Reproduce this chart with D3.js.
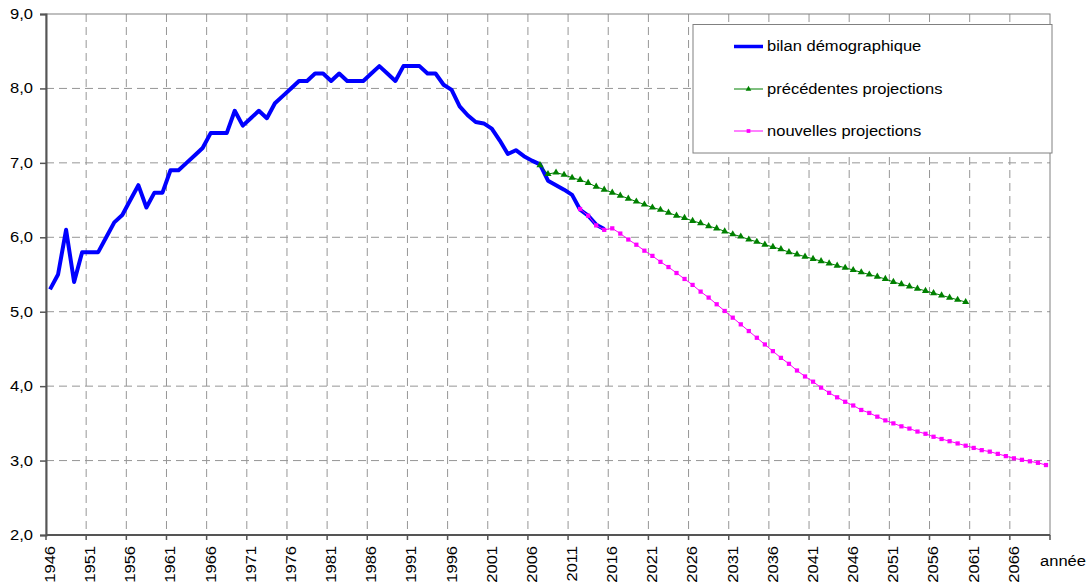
<!DOCTYPE html>
<html>
<head>
<meta charset="utf-8">
<script src="https://cdn.jsdelivr.net/npm/d3@7"></script>
<style>
  html, body { margin: 0; padding: 0; background: #fff; }
  svg { display: block; font-family: "Liberation Sans", Arial, sans-serif; }
</style>
</head>
<body>
<svg id="chart" width="1089" height="584"></svg>
<script>
// ---- Data ----
const firstYear = 1946;
const lastYear = 2070;
const categories = d3.range(firstYear, lastYear + 1);
const yTickValues = [2, 3, 4, 5, 6, 7, 8, 9];
const xLabelStep = 5;

const bilanStart = 1946;
const bilanValues = [
  5.3, 5.5, 6.1, 5.4, 5.8, 5.8, 5.8, 6.0, 6.2, 6.3,
  6.5, 6.7, 6.4, 6.6, 6.6, 6.9, 6.9, 7.0, 7.1, 7.2,
  7.4, 7.4, 7.4, 7.7, 7.5, 7.6, 7.7, 7.6, 7.8, 7.9,
  8.0, 8.1, 8.1, 8.2, 8.2, 8.1, 8.2, 8.1, 8.1, 8.1,
  8.2, 8.3, 8.2, 8.1, 8.3, 8.3, 8.3, 8.2, 8.2, 8.05,
  7.98, 7.76, 7.64, 7.55, 7.53, 7.46, 7.3, 7.12, 7.17, 7.09,
  7.03, 6.98, 6.76, 6.70, 6.64, 6.57, 6.37, 6.29, 6.17, 6.11
];

const precStart = 2007;
const precValues = [
  6.97, 6.85, 6.87, 6.84, 6.80, 6.77, 6.73, 6.68, 6.64, 6.60,
  6.56, 6.52, 6.48, 6.44, 6.40, 6.37, 6.33, 6.29, 6.26, 6.22,
  6.19, 6.15, 6.12, 6.08, 6.04, 6.01, 5.97, 5.94, 5.90, 5.87,
  5.84, 5.80, 5.77, 5.74, 5.71, 5.68, 5.65, 5.62, 5.59, 5.56,
  5.53, 5.50, 5.47, 5.44, 5.40, 5.37, 5.34, 5.31, 5.28, 5.25,
  5.22, 5.19, 5.16, 5.13
];

const nouvStart = 2012;
const nouvValues = [
  6.38, 6.29, 6.16, 6.10, 6.12, 6.05, 5.97, 5.90, 5.82, 5.75,
  5.67, 5.60, 5.52, 5.44, 5.36, 5.27, 5.19, 5.10, 5.01, 4.92,
  4.83, 4.74, 4.65, 4.56, 4.47, 4.38, 4.30, 4.21, 4.13, 4.06,
  3.98, 3.91, 3.85, 3.79, 3.74, 3.68, 3.64, 3.59, 3.54, 3.50,
  3.46, 3.43, 3.39, 3.36, 3.32, 3.29, 3.26, 3.23, 3.20, 3.17,
  3.14, 3.12, 3.09, 3.06, 3.03, 3.01, 2.99, 2.97, 2.94
];

const seriesNames = ["bilan démographique", "précédentes projections", "nouvelles projections"];
const xAxisTitle = "année";

// ---- Layout ----
const svg = d3.select("#chart");
const L = 46, R = 1050, T = 14, B = 535;
const STRETCH = 1.18;

const x = d3.scaleBand().domain(categories).range([L, R]).padding(0);
const bw = x.bandwidth();
const cx = yr => x(yr) + bw / 2;
const y = d3.scaleLinear().domain([2, 9]).range([B, T]);
const locale = d3.formatLocale({decimal: ",", thousands: " ", grouping: [3], currency: ["", " €"]});
const fmt = locale.format(".1f");

const toPts = (start, vals) => vals.map((v, i) => ({year: start + i, v}));
const bilan = toPts(bilanStart, bilanValues);
const prec = toPts(precStart, precValues);
const nouv = toPts(nouvStart, nouvValues);

// grid
const gridColor = "#969696";
const dash = "8,5";
const grid = svg.append("g");
grid.selectAll("line.h").data(yTickValues.filter(v => v > 2 && v < 9)).join("line")
  .attr("x1", L).attr("x2", R).attr("y1", d => y(d)).attr("y2", d => y(d))
  .attr("stroke", gridColor).attr("stroke-width", 1).attr("stroke-dasharray", dash);
const boundaryYears = categories.filter(c => (c - firstYear) % xLabelStep === 0);
const boundaryX = boundaryYears.map(c => x(c)).concat([R]);
grid.selectAll("line.v").data(boundaryX.filter(px => px > L && px < R)).join("line")
  .attr("x1", d => d).attr("x2", d => d).attr("y1", T).attr("y2", B)
  .attr("stroke", gridColor).attr("stroke-width", 1).attr("stroke-dasharray", dash);

// plot border
svg.append("rect").attr("x", L).attr("y", T).attr("width", R - L).attr("height", B - T)
  .attr("fill", "none").attr("stroke", "#808080").attr("stroke-width", 1);

// y axis
const yAxis = svg.append("g").attr("transform", `translate(${L},0)`)
  .call(d3.axisLeft(y).tickValues(yTickValues).tickSize(6).tickPadding(7).tickFormat(fmt));
yAxis.select(".domain").attr("stroke", "#555").attr("stroke-width", 2);
yAxis.selectAll(".tick line").attr("stroke", "#555").attr("stroke-width", 1.5);
yAxis.selectAll("text").attr("font-size", 14).attr("fill", "#000")
  .attr("font-family", '"Liberation Sans", Arial, sans-serif').classed("stretch", true);

// x axis
const xg = svg.append("g");
xg.append("line").attr("x1", L).attr("x2", R).attr("y1", B).attr("y2", B)
  .attr("stroke", "#555").attr("stroke-width", 2);
xg.selectAll("line.tk").data(boundaryX).join("line")
  .attr("x1", d => d).attr("x2", d => d).attr("y1", B).attr("y2", B + 5)
  .attr("stroke", "#555").attr("stroke-width", 1.5);
xg.selectAll("text.lbl").data(boundaryYears).join("text")
  .attr("class", "lbl stretch")
  .attr("transform", d => `translate(${cx(d)},${B + 11}) rotate(-90)`)
  .attr("text-anchor", "end").attr("dy", "0.35em")
  .attr("font-size", 14).attr("fill", "#000")
  .text(d => d);
svg.append("text").attr("class", "stretch").attr("x", 1040).attr("y", 566)
  .attr("font-size", 14).attr("fill", "#000").text(xAxisTitle);

// lines
const line = d3.line().x(d => cx(d.year)).y(d => y(d.v));
svg.append("path").datum(bilan).attr("d", line).attr("fill", "none")
  .attr("stroke", "#0000ff").attr("stroke-width", 4).attr("stroke-linejoin", "round");

const tri = d3.symbol().type(d3.symbolTriangle).size(22);
const sq = d3.symbol().type(d3.symbolSquare).size(18);

svg.append("path").datum(prec).attr("d", line).attr("fill", "none")
  .attr("stroke", "#008000").attr("stroke-width", 1);
svg.append("g").selectAll("path").data(prec).join("path")
  .attr("transform", d => `translate(${cx(d.year)},${y(d.v)})`)
  .attr("d", tri).attr("fill", "#008000");

svg.append("path").datum(nouv).attr("d", line).attr("fill", "none")
  .attr("stroke", "#ff00ff").attr("stroke-width", 1);
svg.append("g").selectAll("path").data(nouv).join("path")
  .attr("transform", d => `translate(${cx(d.year)},${y(d.v)})`)
  .attr("d", sq).attr("fill", "#ff00ff");

// legend
const lg = svg.append("g");
lg.append("rect").attr("x", 693).attr("y", 24.5).attr("width", 359).attr("height", 128.5)
  .attr("fill", "#fff").attr("stroke", "#808080").attr("stroke-width", 1);
const rows = [46.5, 89, 131];
const colors = ["#0000ff", "#008000", "#ff00ff"];
const widths = [3.5, 1, 1];
seriesNames.forEach((name, i) => {
  lg.append("line").attr("x1", 734).attr("x2", 763).attr("y1", rows[i]).attr("y2", rows[i])
    .attr("stroke", colors[i]).attr("stroke-width", widths[i]);
  if (i === 1) lg.append("path").attr("transform", `translate(748.5,${rows[i]})`).attr("d", d3.symbol().type(d3.symbolTriangle).size(14)).attr("fill", colors[i]);
  if (i === 2) lg.append("path").attr("transform", `translate(748.5,${rows[i]})`).attr("d", d3.symbol().type(d3.symbolSquare).size(14)).attr("fill", colors[i]);
  lg.append("text").attr("class", "stretch").attr("x", 767).attr("y", rows[i]).attr("dy", "0.35em")
    .attr("font-size", 14).attr("fill", "#000").text(name);
});

// stretch text horizontally like the original rendering
svg.selectAll("text.stretch").each(function() {
  const len = this.getComputedTextLength();
  d3.select(this).attr("textLength", len * STRETCH).attr("lengthAdjust", "spacingAndGlyphs");
});
</script>
</body>
</html>
